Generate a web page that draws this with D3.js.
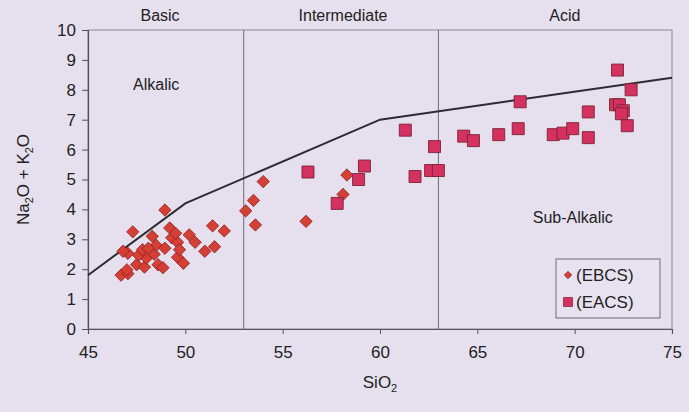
<!DOCTYPE html>
<html>
<head>
<meta charset="utf-8">
<script src="https://cdn.jsdelivr.net/npm/d3@7/dist/d3.min.js"></script>
<style>
  html, body { margin: 0; padding: 0; background: #e6e0ee; }
  svg { display: block; font-family: "Liberation Sans", Arial, sans-serif; }
</style>
</head>
<body>
<svg id="chart" width="689" height="412"></svg>
<script>
// Total alkali vs silica: EBCS and EACS samples
const ebcsSiO2 = [46.7, 47.05, 47.0, 47.5, 47.9, 48.6, 48.85, 48.0, 47.6, 47.05, 46.8, 47.8, 48.4, 48.5, 48.1, 48.95, 47.3, 48.3, 48.95, 49.2, 49.3, 49.6, 49.5, 49.6, 49.9, 49.7, 50.2, 50.5, 51.0, 51.5, 51.4, 52.0, 53.1, 53.5, 53.6, 54.0, 56.2, 58.1, 58.3];
const ebcsAlkali = [1.8, 1.85, 1.98, 2.15, 2.07, 2.15, 2.05, 2.37, 2.47, 2.53, 2.6, 2.65, 2.5, 2.8, 2.7, 2.7, 3.25, 3.1, 3.98, 3.38, 3.05, 2.9, 3.2, 2.4, 2.2, 2.65, 3.15, 2.9, 2.6, 2.75, 3.45, 3.28, 3.95, 4.3, 3.48, 4.93, 3.6, 4.5, 5.15];

const eacsSiO2 = [56.3, 57.8, 58.9, 59.2, 61.3, 61.8, 62.6, 63.0, 62.8, 64.3, 64.8, 66.1, 67.1, 67.2, 68.9, 69.4, 69.9, 70.7, 70.7, 72.1, 72.3, 72.5, 72.4, 72.7, 72.2, 72.9];
const eacsAlkali = [5.25, 4.2, 5.0, 5.45, 6.65, 5.1, 5.3, 5.3, 6.1, 6.45, 6.3, 6.5, 6.7, 7.6, 6.5, 6.55, 6.7, 6.4, 7.26, 7.5, 7.5, 7.3, 7.2, 6.8, 8.66, 8.0];

// Alkalic / sub-alkalic dividing line
const boundarySiO2 = [45, 50, 60, 75];
const boundaryAlkali = [1.8, 4.2, 7.0, 8.4];

// Silica class limits and labels
const classLimits = [53, 63];
const classNames = ["Basic", "Intermediate", "Acid"];
const classCentres = [48.7, 58.1, 69.5];

const xTicks = [45, 50, 55, 60, 65, 70, 75];
const yTicks = [0, 1, 2, 3, 4, 5, 6, 7, 8, 9, 10];

const svg = d3.select("#chart");
const margin = { left: 88, top: 30, right: 17, bottom: 83 };
const W = 689 - margin.left - margin.right;
const H = 412 - margin.top - margin.bottom;

const x = d3.scaleLinear().domain([45, 75]).range([0, W]);
const y = d3.scaleLinear().domain([0, 10]).range([H, 0]);

const g = svg.append("g").attr("transform", `translate(${margin.left},${margin.top})`);

// Plot frame
g.append("rect").attr("x", 0).attr("y", 0).attr("width", W).attr("height", H)
  .attr("fill", "none").attr("stroke", "#8a8690").attr("stroke-width", 1);

// Class limit verticals
g.selectAll("line.limit").data(classLimits).join("line")
  .attr("class", "limit")
  .attr("x1", d => x(d)).attr("x2", d => x(d))
  .attr("y1", y(0)).attr("y2", y(10))
  .attr("stroke", "#6e6a74").attr("stroke-width", 1);

// Axes
const xAxis = g.append("g").attr("transform", `translate(0,${H})`)
  .call(d3.axisBottom(x).tickValues(xTicks).tickSize(5).tickPadding(12));
const yAxis = g.append("g")
  .call(d3.axisLeft(y).tickValues(yTicks).tickSize(6).tickPadding(6));
[xAxis, yAxis].forEach(a => {
  a.select(".domain").attr("stroke", "#55525a").attr("stroke-width", 1.2);
  a.selectAll(".tick line").attr("stroke", "#55525a");
  a.selectAll(".tick text").attr("fill", "#222").attr("font-size", 17)
    .attr("font-family", "Liberation Sans, Arial, sans-serif");
});

// Boundary line
const boundary = boundarySiO2.map((s, i) => [s, boundaryAlkali[i]]);
g.append("path").datum(boundary)
  .attr("d", d3.line().x(d => x(d[0])).y(d => y(d[1])))
  .attr("fill", "none").attr("stroke", "#2e2b30").attr("stroke-width", 2);

// Sample markers
const diamond = d3.symbol(d3.symbolSquare, 76)();
const square = d3.symbol(d3.symbolSquare, 144)();

g.selectAll("path.ebcs").data(ebcsSiO2.map((s, i) => [s, ebcsAlkali[i]])).join("path")
  .attr("class", "ebcs")
  .attr("d", diamond)
  .attr("transform", d => `translate(${x(d[0])},${y(d[1])}) rotate(45)`)
  .attr("fill", "#d63f36").attr("stroke", "#8c2420").attr("stroke-width", 0.8);

g.selectAll("path.eacs").data(eacsSiO2.map((s, i) => [s, eacsAlkali[i]])).join("path")
  .attr("class", "eacs")
  .attr("d", square)
  .attr("transform", d => `translate(${x(d[0])},${y(d[1])})`)
  .attr("fill", "#d53160").attr("stroke", "#7c2236").attr("stroke-width", 0.9);

// Class names above the plot
g.selectAll("text.cls").data(classNames).join("text")
  .attr("class", "cls")
  .attr("x", (d, i) => x(classCentres[i])).attr("y", -9)
  .attr("text-anchor", "middle").attr("font-size", 16).attr("fill", "#222")
  .text(d => d);

// Field labels
g.append("text").attr("x", x(48.5)).attr("y", y(8.0)).attr("text-anchor", "middle")
  .attr("font-size", 16).attr("fill", "#222").text("Alkalic");
g.append("text").attr("x", x(69.9)).attr("y", y(3.55)).attr("text-anchor", "middle")
  .attr("font-size", 16).attr("fill", "#222").text("Sub-Alkalic");

// Axis titles
const xt = svg.append("text").attr("x", margin.left + x(60)).attr("y", 388)
  .attr("text-anchor", "middle").attr("font-size", 17).attr("fill", "#222");
xt.append("tspan").text("SiO");
xt.append("tspan").attr("font-size", 11).attr("dy", 4).text("2");

const yt = svg.append("text")
  .attr("transform", `translate(29,${margin.top + y(5)}) rotate(-90)`)
  .attr("text-anchor", "middle").attr("font-size", 17).attr("fill", "#222");
yt.append("tspan").text("Na");
yt.append("tspan").attr("font-size", 11).attr("dy", 4).text("2");
yt.append("tspan").attr("dy", -4).text("O + K");
yt.append("tspan").attr("font-size", 11).attr("dy", 4).text("2");
yt.append("tspan").attr("dy", -4).text("O");

// Legend
const legendItems = [
  { label: "(EBCS)", shape: diamond, rot: 45, fill: "#d63f36", stroke: "#8c2420", size: 0.62 },
  { label: "(EACS)", shape: square, rot: 0, fill: "#d53160", stroke: "#7c2236", size: 0.75 }
];
const lg = svg.append("g").attr("transform", "translate(556,259)");
lg.append("rect").attr("width", 104).attr("height", 59)
  .attr("fill", "#e8e2f0").attr("stroke", "#6e6a74").attr("stroke-width", 1);
legendItems.forEach((it, i) => {
  const row = lg.append("g").attr("transform", `translate(0,${16 + i * 27})`);
  row.append("path").attr("d", it.shape)
    .attr("transform", `translate(12,0) scale(${it.size}) rotate(${it.rot})`)
    .attr("fill", it.fill).attr("stroke", it.stroke).attr("stroke-width", 1);
  row.append("text").attr("x", 20).attr("y", 6).attr("font-size", 17).attr("fill", "#222")
    .text(it.label);
});
</script>
</body>
</html>
